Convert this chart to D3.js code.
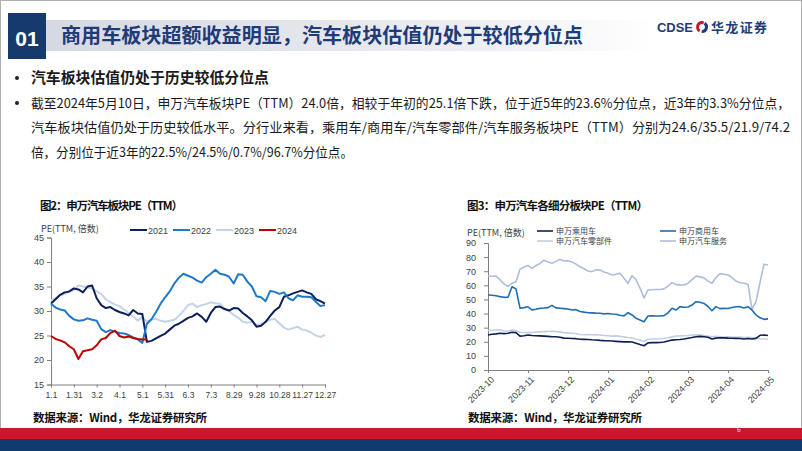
<!DOCTYPE html>
<html>
<head>
<meta charset="utf-8">
<script src="https://cdn.jsdelivr.net/npm/d3@7"></script>
<style>
  body { margin: 0; background: #fff; }
  svg { display: block; font-family: "Noto Sans CJK SC", "Noto Sans", sans-serif; }
</style>
</head>
<body>
<div id="page"></div>
<script>
// ---- data: 图2 申万汽车板块PE(TTM), one value every ~4 trading days
var dayLabels = ["1.1","1.31","3.2","4.1","5.1","5.31","6.3","7.3","8.29","9.28","10.28","11.27","12.27"];
var pe2021 = [31.5,32.4,33.3,33.8,34.0,34.6,34.4,33.8,35.0,35.2,32.6,31.2,30.6,30.8,30.2,29.8,29.5,29.1,30.2,29.5,
  29.4,23.7,23.9,24.4,24.9,25.4,26.2,27.0,27.4,28.0,28.6,28.9,29.5,28.8,27.8,29.6,30.8,30.9,30.4,30.1,
  30.6,30.5,29.6,28.9,28.1,26.8,27.0,27.8,29.0,30.1,30.8,32.9,33.2,33.6,33.9,34.2,33.8,33.5,32.4,32.0,31.5];
var pe2022 = [31.5,30.7,30.3,30.1,29.0,28.3,28.0,28.1,28.5,28.2,28.0,26.3,25.7,26.1,25.8,25.5,25.4,25.1,24.6,24.2,
  23.5,27.4,28.3,29.8,31.5,32.8,34.0,35.6,36.8,37.6,37.2,36.8,36.2,35.8,36.9,37.6,38.4,37.6,37.4,37.0,
  35.6,37.5,37.4,36.0,35.0,33.0,32.8,32.0,34.1,33.9,33.5,33.8,32.6,32.2,33.2,32.9,32.9,32.8,31.9,31.0,31.2];
var pe2023 = [32.2,32.6,33.2,33.5,33.9,34.3,35.2,35.0,34.8,34.6,34.0,33.5,32.4,31.8,31.3,31.0,30.3,29.6,28.9,28.0,
  28.8,27.8,28.2,28.4,28.0,27.8,28.0,28.2,29.0,30.0,31.2,31.5,30.8,31.2,31.4,31.8,31.6,31.5,30.5,30.0,
  29.2,28.6,27.8,27.6,27.8,27.2,27.3,27.8,28.2,28.4,27.5,26.6,26.2,26.5,26.8,26.2,26.0,25.6,25.0,24.7,25.1];
var pe2024 = [24.9,24.3,24.0,23.6,22.8,22.2,20.2,21.8,22.0,22.2,23.0,24.2,24.5,25.5,26.0,24.9,24.6,24.8,24.5,24.3,24.2,24.2];
var yearNames = ["2021","2022","2023","2024"];

// ---- data: 图3 申万汽车各细分板块PE(TTM), ten values per month
var monthLabels = ["2023-10","2023-11","2023-12","2024-01","2024-02","2024-03","2024-04","2024-05"];
var peCar = [24.8,25.3,25.6,26.0,25.8,26.0,26.8,26.5,24.0,24.3,24.8,24.5,24.3,24.2,24.0,23.8,23.6,23.6,23.2,22.6,
  22.5,22.3,22.2,21.8,21.7,21.6,21.4,21.3,21.0,20.8,20.7,20.5,20.3,20.1,19.9,20.0,19.8,19.0,18.0,17.2,
  19.2,19.4,19.4,19.5,19.8,20.5,21.2,21.4,21.6,22.0,22.5,23.0,23.6,23.8,23.6,23.2,22.0,22.6,22.9,22.8,
  22.6,22.5,22.4,22.3,22.0,22.3,22.0,22.4,24.6,24.8,24.4];
var peTruck = [53.2,53.0,52.6,52.0,51.5,51.6,59.0,57.5,43.8,44.2,44.8,42.6,43.0,43.7,43.9,44.2,45.8,44.0,43.8,43.5,
  43.2,42.5,42.8,41.5,41.0,40.6,40.5,40.3,40.2,39.8,40.0,39.7,39.5,38.8,38.3,40.6,39.0,36.6,35.5,34.2,
  38.3,38.4,38.3,38.3,38.5,40.5,43.7,42.5,44.9,44.5,44.6,46.0,48.4,48.0,47.2,45.0,42.0,44.9,43.5,43.7,
  43.6,44.3,44.8,44.9,44.0,44.9,42.5,39.0,37.0,35.9,36.2];
var peParts = [28.0,28.2,28.4,28.3,27.8,27.5,28.3,28.0,26.8,26.6,26.5,26.6,27.0,27.0,27.2,27.3,27.5,27.2,27.0,26.5,
  26.3,26.0,25.7,25.2,25.0,25.2,25.0,24.9,24.8,24.5,24.3,24.0,24.2,23.8,23.5,23.0,22.8,22.0,21.3,20.2,
  21.8,22.0,22.0,22.1,22.3,22.8,23.6,24.0,24.2,24.3,24.5,24.8,25.0,24.8,24.5,24.0,23.6,23.8,23.6,23.4,
  23.5,23.3,23.2,23.3,23.0,23.2,23.0,22.5,22.2,22.0,22.0];
var peService = [66.6,66.4,66.5,64.0,61.0,59.2,61.5,62.6,71.5,73.0,74.0,72.0,74.0,75.5,77.8,76.5,75.6,77.0,78.5,77.2,
  77.5,76.5,75.0,73.2,71.8,70.2,69.7,71.0,70.8,69.5,68.5,67.3,67.8,68.5,65.0,61.4,66.8,64.0,58.0,51.0,
  56.7,56.9,57.0,57.1,57.5,59.5,62.0,60.5,60.3,60.2,61.5,64.0,66.5,66.0,65.3,63.0,61.5,65.5,68.3,67.8,
  67.3,65.5,63.0,61.8,61.5,60.8,43.0,48.5,62.0,75.0,74.4];
var sectorNames = ["申万乘用车","申万商用车","申万汽车零部件","申万汽车服务"];

var svg = d3.select("#page").append("svg").attr("width", 802).attr("height", 451);
var navy = "#1f3c78";

// slide frame + footer bands
svg.append("rect").attr("x", 0.5).attr("y", 0.5).attr("width", 801).attr("height", 428)
  .attr("fill", "none").attr("stroke", "#b0b0b0");
svg.append("rect").attr("x", 0).attr("y", 428).attr("width", 802).attr("height", 11).attr("fill", "#c8182c");
svg.append("rect").attr("x", 0).attr("y", 439).attr("width", 802).attr("height", 12).attr("fill", "#0f3a6e");
svg.append("text").attr("x", 737).attr("y", 432).attr("font-size", 7).attr("fill", "#ddd").text("6");

// header
var grad = svg.append("defs").append("linearGradient").attr("id", "band");
grad.append("stop").attr("offset", "0%").attr("stop-color", "#d6d9e1");
grad.append("stop").attr("offset", "70%").attr("stop-color", "#eceef2");
grad.append("stop").attr("offset", "100%").attr("stop-color", "#ffffff");
svg.append("rect").attr("x", 46).attr("y", 20).attr("width", 610).attr("height", 31).attr("fill", "url(#band)");
svg.append("rect").attr("x", 8).attr("y", 13).attr("width", 38).attr("height", 46).attr("fill", "#173a6e");
svg.append("text").attr("x", 27).attr("y", 46).attr("text-anchor", "middle").attr("fill", "#fff")
  .attr("font-size", 21).attr("font-weight", "bold").attr("font-family", "Liberation Sans, Arial").text("01");
svg.append("text").attr("x", 61).attr("y", 43).attr("fill", navy).attr("font-size", 20).attr("font-weight", "bold")
  .attr("textLength", 522).attr("lengthAdjust", "spacingAndGlyphs")
  .text("商用车板块超额收益明显，汽车板块估值仍处于较低分位点");

// logo
svg.append("text").attr("x", 657).attr("y", 32).attr("fill", navy).attr("font-size", 13).attr("font-weight", "bold")
  .attr("font-family", "Liberation Sans, Arial").attr("textLength", 36).attr("lengthAdjust", "spacingAndGlyphs").text("CDSE");
svg.append("path").attr("d", d3.arc()({innerRadius: 3, outerRadius: 6, startAngle: -2.6, endAngle: 0.4}))
  .attr("transform", "translate(702,27)").attr("fill", "#c8182c");
svg.append("path").attr("d", d3.arc()({innerRadius: 3, outerRadius: 6, startAngle: 0.6, endAngle: 3.2}))
  .attr("transform", "translate(702,27)").attr("fill", navy);
svg.append("text").attr("x", 711).attr("y", 32).attr("fill", navy).attr("font-size", 13).attr("font-weight", "bold")
  .attr("textLength", 56).text("华龙证券");

// bullet text
var paraLines = [
  {y: 83, w: 238, bold: true, size: 15, t: "汽车板块估值仍处于历史较低分位点"},
  {y: 108, w: 759, bold: false, size: 13, t: "截至2024年5月10日，申万汽车板块PE（TTM）24.0倍，相较于年初的25.1倍下跌，位于近5年的23.6%分位点，近3年的3.3%分位点，"},
  {y: 132, w: 759, bold: false, size: 13, t: "汽车板块估值仍处于历史较低水平。分行业来看，乘用车/商用车/汽车零部件/汽车服务板块PE（TTM）分别为24.6/35.5/21.9/74.2"},
  {y: 157, w: 322, bold: false, size: 13, t: "倍，分别位于近3年的22.5%/24.5%/0.7%/96.7%分位点。"}
];
svg.selectAll(".bul").data([paraLines[0], paraLines[1]]).enter().append("circle")
  .attr("cx", 17).attr("cy", function(d){ return d.y - 5; }).attr("r", 2).attr("fill", "#222");
svg.selectAll(".para").data(paraLines).enter().append("text")
  .attr("x", 31).attr("y", function(d){ return d.y; })
  .attr("font-size", function(d){ return d.size; })
  .attr("font-weight", function(d){ return d.bold ? "bold" : "normal"; })
  .attr("fill", "#1a1a1a")
  .attr("textLength", function(d){ return d.w; }).attr("lengthAdjust", "spacingAndGlyphs")
  .text(function(d){ return d.t; });

// chart captions and sources
svg.append("text").attr("x", 40).attr("y", 210).attr("font-size", 11.5).attr("font-weight", "bold").attr("fill", "#111")
  .attr("textLength", 143).text("图2：申万汽车板块PE（TTM）");
svg.append("text").attr("x", 467).attr("y", 210).attr("font-size", 11.5).attr("font-weight", "bold").attr("fill", "#111")
  .attr("textLength", 181).text("图3：申万汽车各细分板块PE（TTM）");
[33, 468].forEach(function(x){
  svg.append("text").attr("x", x).attr("y", 422).attr("font-size", 11.5).attr("font-weight", "bold").attr("fill", "#111")
    .attr("textLength", 174).text("数据来源：Wind，华龙证券研究所");
});

function styleAxis(g){
  g.selectAll(".domain").attr("stroke", "#808080");
  g.selectAll(".tick line").attr("stroke", "#808080");
  g.selectAll("text").attr("fill", "#404040").attr("font-size", 9).attr("font-family", "Liberation Sans, Arial");
}

// ---- 图2
var x2 = d3.scaleLinear().domain([0, 60]).range([51, 325]);
var y2 = d3.scaleLinear().domain([15, 45]).range([384.5, 237.5]);
var ax2 = svg.append("g").attr("transform", "translate(0,384.5)")
  .call(d3.axisBottom(x2).tickValues(d3.range(0, 61, 5)).tickSize(3)
    .tickFormat(function(d, i){ return dayLabels[i]; }));
styleAxis(ax2);
ax2.selectAll("text").attr("dy", "0.9em").attr("font-size", 8.5);
var ay2 = svg.append("g").attr("transform", "translate(51,0)")
  .call(d3.axisLeft(y2).tickValues([15,20,25,30,35,40,45]).tickSize(4).tickPadding(3));
styleAxis(ay2);

var yearColors = ["#0c1f5e", "#2079c7", "#c3d3e8", "#c00000"];
var yearSeries = [pe2021, pe2022, pe2023, pe2024];
var line2 = d3.line().x(function(d, i){ return x2(i); }).y(function(d){ return y2(d); });
[2, 0, 1, 3].forEach(function(s){
  svg.append("path").datum(yearSeries[s]).attr("d", line2).attr("fill", "none")
    .attr("stroke", yearColors[s]).attr("stroke-width", 2).attr("stroke-linejoin", "round");
});
svg.append("text").attr("x", 41).attr("y", 232).attr("font-size", 9).attr("fill", "#404040").text("PE(TTM, 倍数)");
var leg2 = svg.selectAll(".leg2").data(yearNames).enter().append("g")
  .attr("transform", function(d, i){ return "translate(" + (130 + i * 43) + ",230)"; });
leg2.append("line").attr("x1", 0).attr("x2", 17).attr("stroke-width", 2)
  .attr("stroke", function(d, i){ return yearColors[i]; });
leg2.append("text").attr("x", 18).attr("y", 3.5).attr("font-size", 9).attr("fill", "#404040")
  .attr("font-family", "Liberation Sans, Arial").text(function(d){ return d; });

// ---- 图3
var x3 = d3.scaleLinear().domain([0, 70]).range([488, 768]);
var y3 = d3.scaleLinear().domain([0, 90]).range([370, 243]);
var ax3 = svg.append("g").attr("transform", "translate(0,370)")
  .call(d3.axisBottom(x3).tickValues(d3.range(0, 71, 10)).tickSize(3)
    .tickFormat(function(d, i){ return monthLabels[i]; }));
styleAxis(ax3);
ax3.selectAll("text").attr("text-anchor", "end").attr("dy", 0)
  .attr("transform", "translate(2,6) rotate(-45)");
var ay3 = svg.append("g").attr("transform", "translate(488,0)")
  .call(d3.axisLeft(y3).tickValues(d3.range(0, 91, 10)).tickSize(4).tickPadding(8));
styleAxis(ay3);

var sectorColors = ["#0e1f52", "#1f6db3", "#c2cfe3", "#aebddb"];
var sectorSeries = [peCar, peTruck, peParts, peService];
var line3 = d3.line().x(function(d, i){ return x3(i); }).y(function(d){ return y3(d); });
[3, 2, 1, 0].forEach(function(s){
  svg.append("path").datum(sectorSeries[s]).attr("d", line3).attr("fill", "none")
    .attr("stroke", sectorColors[s]).attr("stroke-width", 1.6).attr("stroke-linejoin", "round");
});
svg.append("text").attr("x", 467).attr("y", 236).attr("font-size", 9).attr("fill", "#404040").text("PE(TTM, 倍数)");
var leg3 = svg.selectAll(".leg3").data(sectorNames).enter().append("g")
  .attr("transform", function(d, i){ return "translate(" + (537 + (i % 2) * 123) + "," + (231 + Math.floor(i / 2) * 10) + ")"; });
leg3.append("line").attr("x1", 0).attr("x2", 16).attr("stroke-width", 1.6)
  .attr("stroke", function(d, i){ return sectorColors[i]; });
leg3.append("text").attr("x", 19).attr("y", 3).attr("font-size", 8).attr("fill", "#404040")
  .text(function(d){ return d; });
</script>
</body>
</html>
